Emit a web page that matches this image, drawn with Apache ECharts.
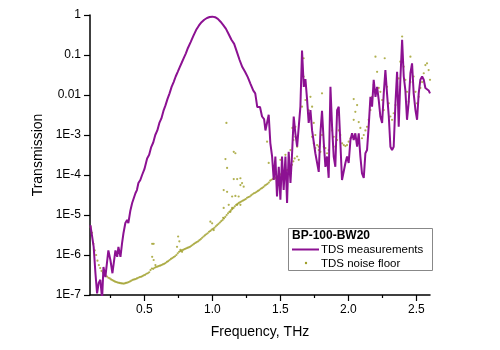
<!DOCTYPE html>
<html>
<head>
<meta charset="utf-8">
<title>BP-100-BW20</title>
<script src="https://cdn.jsdelivr.net/npm/echarts@6/dist/echarts.min.js"></script>
<style>
  html, body { margin: 0; padding: 0; background: #fff; }
  #chart { width: 500px; height: 350px; }
</style>
</head>
<body>
<div id="chart"></div>
<script>
// TDS measurement, [frequency THz, transmission]
const tdsPoints = [
  [0.103, 5.6e-6], [0.115, 3.0e-6], [0.127, 1.6e-6], [0.140, 3.5e-7], [0.152, 1.1e-7],
  [0.164, 2.0e-7], [0.176, 2.4e-7], [0.189, 8e-8], [0.199, 5e-7], [0.213, 2.8e-7],
  [0.235, 1.3e-6], [0.250, 7.5e-7], [0.265, 3.5e-7], [0.287, 1.3e-6], [0.300, 9e-7],
  [0.309, 1.6e-6], [0.324, 9e-7], [0.336, 2.0e-6], [0.346, 3.5e-6], [0.360, 6.3e-6],
  [0.373, 7.5e-6], [0.382, 6.3e-6], [0.397, 1.3e-5], [0.410, 2.0e-5], [0.419, 1.8e-5],
  [0.434, 3.5e-5], [0.445, 4.2e-5], [0.456, 6.3e-5], [0.470, 7.5e-5], [0.483, 1.0e-4],
  [0.500, 1.4e-4], [0.520, 2.6e-4], [0.535, 3.2e-4], [0.550, 5.0e-4], [0.565, 6.5e-4],
  [0.580, 1.0e-3], [0.595, 1.3e-3], [0.610, 2.0e-3], [0.625, 2.6e-3], [0.640, 4.0e-3],
  [0.655, 5.5e-3], [0.670, 8.0e-3], [0.685, 0.011], [0.700, 0.016], [0.715, 0.021],
  [0.730, 0.029], [0.745, 0.038], [0.760, 0.050], [0.775, 0.065], [0.790, 0.085],
  [0.805, 0.11], [0.820, 0.15], [0.840, 0.21], [0.860, 0.30], [0.880, 0.42],
  [0.900, 0.54], [0.920, 0.66], [0.940, 0.76], [0.960, 0.84], [0.980, 0.89],
  [1.000, 0.91], [1.020, 0.88], [1.040, 0.80], [1.060, 0.68], [1.080, 0.56],
  [1.100, 0.45], [1.120, 0.33], [1.140, 0.24], [1.160, 0.19], [1.180, 0.12],
  [1.200, 0.075], [1.220, 0.050], [1.240, 0.038], [1.260, 0.028], [1.280, 0.019],
  [1.300, 0.013], [1.315, 0.011], [1.330, 5.0e-3], [1.350, 5.0e-3], [1.365, 2.9e-3],
  [1.380, 2.5e-3], [1.390, 1.3e-3], [1.414, 3.2e-3], [1.426, 6.3e-4], [1.439, 2.9e-4],
  [1.451, 7.5e-5], [1.463, 2.9e-4], [1.475, 2.9e-5], [1.488, 1.6e-4], [1.500, 2.4e-5],
  [1.512, 2.9e-4], [1.524, 4.2e-5], [1.537, 2.9e-4], [1.549, 2.0e-5], [1.561, 3.8e-4],
  [1.574, 6.3e-5], [1.586, 3.5e-4], [1.598, 2.9e-3], [1.610, 1.1e-3], [1.623, 5.1e-4],
  [1.635, 5.0e-4], [1.647, 5.1e-3], [1.659, 0.13], [1.672, 0.016], [1.684, 0.025],
  [1.696, 7.9e-3], [1.708, 2.0e-3], [1.721, 4.2e-3], [1.733, 1.3e-3], [1.757, 3.5e-4],
  [1.782, 1.2e-4], [1.794, 1.1e-3], [1.806, 4.0e-3], [1.819, 6.3e-4], [1.831, 1.6e-4],
  [1.843, 2.9e-4], [1.855, 8.5e-5], [1.868, 0.016], [1.880, 1.6e-3], [1.892, 2.9e-4],
  [1.904, 1.6e-4], [1.917, 4.2e-3], [1.929, 5.1e-3], [1.941, 6.3e-4], [1.953, 7.5e-5],
  [1.978, 2.0e-4], [1.990, 2.9e-4], [2.002, 2.0e-4], [2.015, 7.5e-4], [2.027, 1.1e-3],
  [2.039, 7.5e-4], [2.051, 1.1e-3], [2.064, 5.1e-4], [2.076, 1.1e-3], [2.088, 2.9e-4],
  [2.100, 1.1e-4], [2.113, 8.5e-5], [2.125, 3.5e-4], [2.137, 4.2e-4], [2.149, 1.6e-3],
  [2.162, 9.0e-3], [2.174, 5.1e-3], [2.186, 0.024], [2.199, 9.0e-3], [2.211, 0.016],
  [2.223, 7.5e-3], [2.235, 2.9e-3], [2.248, 2.0e-3], [2.260, 0.011], [2.272, 0.042],
  [2.284, 0.011], [2.297, 2.9e-3], [2.309, 5.1e-4], [2.321, 4.2e-4], [2.333, 5.1e-4],
  [2.346, 6.3e-3], [2.358, 0.038], [2.370, 1.6e-3], [2.382, 0.024], [2.395, 0.24],
  [2.407, 0.029], [2.419, 0.013], [2.431, 2.4e-3], [2.443, 6.3e-3], [2.456, 0.035],
  [2.468, 0.062], [2.480, 0.011], [2.493, 4.2e-3], [2.505, 2.4e-3], [2.517, 0.011],
  [2.529, 0.024], [2.542, 0.029], [2.554, 0.024], [2.566, 0.015], [2.578, 0.016],
  [2.590, 0.013], [2.600, 0.011]
]

// TDS noise floor, main trend
const noiseTrend = [
  [0.105, 5.0e-6], [0.115, 3.6e-6], [0.125, 1.9e-6], [0.135, 1.3e-6], [0.145, 1.0e-6],
  [0.155, 7.2e-7], [0.165, 5.6e-7], [0.175, 4.7e-7], [0.185, 4.0e-7], [0.195, 3.6e-7],
  [0.205, 3.3e-7], [0.215, 3.1e-7], [0.225, 2.9e-7], [0.235, 2.7e-7], [0.245, 2.6e-7],
  [0.255, 2.45e-7], [0.265, 2.35e-7], [0.275, 2.25e-7], [0.285, 2.15e-7], [0.295, 2.1e-7],
  [0.305, 2.05e-7], [0.315, 2.0e-7], [0.325, 1.97e-7], [0.335, 1.95e-7], [0.345, 1.93e-7],
  [0.355, 1.95e-7], [0.365, 2.0e-7], [0.375, 2.05e-7], [0.385, 2.1e-7], [0.395, 2.2e-7],
  [0.405, 2.3e-7], [0.415, 2.4e-7], [0.425, 2.45e-7], [0.435, 2.5e-7], [0.445, 2.6e-7],
  [0.455, 2.7e-7], [0.465, 2.8e-7], [0.475, 2.85e-7], [0.485, 2.95e-7], [0.495, 3.1e-7],
  [0.505, 3.2e-7], [0.515, 3.4e-7], [0.525, 3.5e-7], [0.535, 3.7e-7], [0.545, 4.2e-7],
  [0.555, 4.6e-7], [0.565, 4.5e-7], [0.575, 4.8e-7], [0.585, 5.0e-7], [0.595, 5.1e-7],
  [0.605, 5.3e-7], [0.615, 5.4e-7], [0.625, 5.6e-7], [0.635, 5.8e-7], [0.645, 6.0e-7],
  [0.655, 6.3e-7], [0.665, 6.7e-7], [0.675, 7.0e-7], [0.685, 7.5e-7], [0.695, 8.0e-7],
  [0.705, 8.4e-7], [0.715, 8.8e-7], [0.725, 9.3e-7], [0.735, 1.0e-6], [0.745, 1.1e-6],
  [0.755, 1.2e-6], [0.765, 1.25e-6], [0.775, 1.3e-6], [0.785, 1.35e-6], [0.795, 1.4e-6],
  [0.805, 1.45e-6], [0.815, 1.5e-6], [0.825, 1.55e-6], [0.835, 1.6e-6], [0.845, 1.7e-6],
  [0.855, 1.8e-6], [0.865, 1.9e-6], [0.875, 2.0e-6], [0.885, 2.1e-6], [0.895, 2.2e-6],
  [0.905, 2.35e-6], [0.915, 2.5e-6], [0.925, 2.7e-6], [0.935, 2.9e-6], [0.945, 3.1e-6],
  [0.955, 3.3e-6], [0.965, 3.5e-6], [0.975, 3.8e-6], [0.985, 4.0e-6], [0.995, 4.3e-6],
  [1.005, 4.5e-6], [1.015, 4.8e-6], [1.025, 5.2e-6], [1.035, 5.6e-6], [1.045, 6.0e-6],
  [1.055, 6.5e-6], [1.065, 7.0e-6], [1.075, 7.5e-6], [1.085, 8.2e-6], [1.095, 9.0e-6],
  [1.105, 1.0e-5], [1.115, 1.1e-5], [1.125, 1.2e-5], [1.135, 1.3e-5], [1.145, 1.4e-5],
  [1.155, 1.5e-5], [1.165, 1.65e-5], [1.175, 1.8e-5], [1.185, 1.9e-5], [1.195, 2.0e-5],
  [1.205, 2.1e-5], [1.215, 2.2e-5], [1.225, 2.3e-5], [1.235, 2.4e-5], [1.245, 2.5e-5],
  [1.255, 2.7e-5], [1.265, 2.8e-5], [1.275, 2.9e-5], [1.285, 3.1e-5], [1.295, 3.3e-5],
  [1.305, 3.5e-5], [1.315, 3.6e-5], [1.325, 3.8e-5], [1.335, 4.0e-5], [1.345, 4.2e-5],
  [1.355, 4.5e-5], [1.365, 4.7e-5], [1.375, 5.0e-5], [1.385, 5.4e-5], [1.395, 5.7e-5],
  [1.405, 6.0e-5], [1.415, 6.5e-5], [1.425, 7.2e-5], [1.435, 7.6e-5], [1.445, 8.0e-5],
  [1.455, 8.2e-5], [1.465, 8.5e-5], [1.475, 9.0e-5], [1.485, 9.5e-5], [1.495, 1.0e-4],
  [1.505, 1.05e-4], [1.515, 1.1e-4], [1.525, 1.15e-4], [1.535, 1.2e-4], [1.545, 1.3e-4],
  [1.555, 1.35e-4], [1.565, 1.45e-4], [1.575, 1.6e-4], [1.585, 1.8e-4], [1.595, 2.2e-4],
  [1.605, 2.6e-4]
]

// TDS noise floor, scattered points
const noiseScatter = [
  [0.557, 1.9e-6], [0.568, 1.9e-6], [0.557, 9e-7], [0.568, 7.5e-7], [0.581, 5.6e-7],
  [0.748, 2.9e-6], [0.757, 2.2e-6], [0.740, 1.6e-6], [0.765, 1.35e-6], [0.777, 1.2e-6],
  [0.985, 6.8e-6], [0.998, 6.2e-6], [1.010, 4.2e-6],
  [1.103, 2.0e-3], [1.096, 2.5e-4], [1.108, 1.5e-4], [1.157, 3.8e-4], [1.169, 3.5e-4],
  [1.157, 7.9e-5], [1.182, 7.9e-5], [1.206, 8.3e-5], [1.218, 6.3e-5], [1.230, 5.1e-5],
  [1.083, 4.2e-5], [1.108, 3.8e-5], [1.145, 2.9e-5], [1.169, 3.0e-5], [1.193, 2.9e-5],
  [1.120, 1.8e-5], [1.145, 1.5e-5], [1.182, 1.8e-5], [1.206, 1.8e-5], [1.083, 1.5e-5],
  [1.132, 1.2e-5], [1.079, 8.5e-6], [1.206, 5.6e-5],
  [1.414, 2.0e-4], [1.402, 6.8e-4], [1.500, 2.4e-4], [1.537, 3.2e-4], [1.574, 4.2e-4],
  [1.596, 7.5e-4], [1.588, 1.5e-3],
  [1.610, 1.6e-3], [1.610, 9e-4], [1.623, 5.1e-4], [1.623, 2.9e-4], [1.635, 2.4e-4],
  [1.659, 5.1e-3], [1.671, 0.083], [1.671, 0.029], [1.684, 7.5e-3], [1.708, 4.2e-3],
  [1.721, 9e-3], [1.733, 5.1e-3], [1.733, 9e-4], [1.745, 2.0e-3], [1.745, 6.2e-4],
  [1.757, 1.0e-3], [1.757, 4.7e-4], [1.770, 5.6e-4], [1.782, 5.1e-4], [1.782, 4.2e-4],
  [1.794, 3.8e-4], [1.806, 0.011], [1.806, 1.0e-3], [1.819, 5.1e-4], [1.831, 4.7e-4],
  [1.843, 3.5e-4], [1.855, 4.2e-4], [1.868, 2.9e-3], [1.880, 1.3e-3], [1.892, 9e-4],
  [1.904, 5.1e-4], [1.917, 7.5e-4], [1.929, 3.2e-3], [1.929, 1.3e-3], [1.941, 1.0e-3],
  [1.954, 6.2e-4], [1.966, 5.6e-4], [1.978, 5.3e-4], [1.990, 5.6e-4], [2.002, 6.8e-4],
  [2.015, 8.3e-4], [2.027, 9e-4], [2.039, 7.9e-3], [2.039, 2.4e-3], [2.051, 3.8e-3],
  [2.064, 5.6e-3], [2.076, 2.1e-3], [2.088, 1.5e-3], [2.100, 8.3e-4], [2.113, 1.0e-3],
  [2.125, 1.3e-3], [2.137, 1.6e-3], [2.149, 2.4e-3], [2.162, 4.2e-3], [2.174, 9e-3],
  [2.186, 0.018], [2.199, 0.091], [2.211, 0.038], [2.223, 0.015], [2.235, 0.012],
  [2.248, 7.5e-3], [2.260, 4.2e-3], [2.267, 0.083], [2.284, 0.016], [2.297, 6.2e-3],
  [2.309, 2.9e-3], [2.321, 2.4e-3], [2.333, 3.5e-3], [2.346, 5.6e-3], [2.358, 0.016],
  [2.370, 0.026], [2.382, 0.068], [2.395, 0.29], [2.407, 0.051], [2.419, 0.024],
  [2.431, 0.012], [2.443, 6.8e-3], [2.456, 0.091], [2.456, 0.021], [2.468, 0.051],
  [2.480, 0.029], [2.493, 0.012], [2.505, 6.2e-3], [2.517, 9e-3], [2.529, 0.015],
  [2.542, 0.021], [2.554, 0.035], [2.566, 0.056], [2.578, 0.062], [2.590, 0.042],
  [2.600, 0.024]
]

const xTickValues = [0.5, 1.0, 1.5, 2.0, 2.5]
const xMinorTickValues = [0.25, 0.75, 1.25, 1.75, 2.25]

const purple = '#8c1192'
const olive = '#9e9e26'
const fontFamily = 'Liberation Sans, Arial, sans-serif'

const chartInstance = echarts.init(document.getElementById('chart'))

// y tick label: 1, 0.1, 0.01, then 1E-n
function yLabel(value) {
  const p = Math.round(Math.log10(value))
  if (p === 0) return '1'
  if (p === -1) return '0.1'
  if (p === -2) return '0.01'
  return '1E' + p
}

const initOption = {
  animation: false,
  backgroundColor: '#fff',
  textStyle: { fontFamily: fontFamily },
  grid: { left: 90, right: 70, top: 15, bottom: 55 },
  xAxis: [
    {
      type: 'value',
      min: 0.1,
      max: 2.6,
      name: 'Frequency, THz',
      nameLocation: 'middle',
      nameGap: 30,
      nameTextStyle: { fontSize: 14, color: '#000', fontFamily: fontFamily },
      axisLine: { lineStyle: { color: '#000', width: 1.5 } },
      axisTick: { customValues: xTickValues, length: 6, lineStyle: { color: '#000', width: 1.2 } },
      axisLabel: {
        customValues: xTickValues,
        margin: 9,
        fontSize: 12,
        color: '#000',
        formatter: (v) => v.toFixed(1),
      },
      splitLine: { show: false },
    },
    {
      // only minor ticks
      type: 'value',
      min: 0.1,
      max: 2.6,
      position: 'bottom',
      axisLine: { show: false },
      axisTick: { customValues: xMinorTickValues, length: 3, lineStyle: { color: '#000', width: 1.2 } },
      axisLabel: { show: false },
      splitLine: { show: false },
    },
  ],
  yAxis: {
    type: 'log',
    logBase: 10,
    min: 1e-7,
    max: 1,
    name: 'Transmission',
    nameLocation: 'middle',
    nameGap: 36,
    nameTextStyle: { fontSize: 14, color: '#000', fontFamily: fontFamily },
    axisLine: { show: true, lineStyle: { color: '#000', width: 1.5 } },
    axisTick: { show: true, length: 6, lineStyle: { color: '#000', width: 1.2 } },
    axisLabel: { margin: 9, fontSize: 12, color: '#000', formatter: yLabel },
    splitLine: { show: false },
  },
  series: [
    {
      name: 'TDS measurements',
      type: 'line',
      data: tdsPoints,
      symbol: 'none',
      clip: true,
      lineStyle: { color: purple, width: 2 },
    },
    {
      name: 'TDS noise floor',
      type: 'scatter',
      data: noiseTrend.concat(noiseScatter),
      symbolSize: 2.2,
      clip: true,
      itemStyle: { color: olive },
    },
  ],
  // legend box drawn by hand, it has a bold title
  graphic: [
    {
      type: 'rect',
      shape: { x: 288.5, y: 228.5, width: 144, height: 42 },
      style: { fill: '#fff', stroke: '#888', lineWidth: 1 },
    },
    {
      type: 'text',
      style: { x: 292, y: 236, text: 'BP-100-BW20', fontSize: 12, fontWeight: 'bold', fontFamily: fontFamily, fill: '#000', verticalAlign: 'middle' },
    },
    {
      type: 'line',
      shape: { x1: 292, y1: 249.5, x2: 319, y2: 249.5 },
      style: { stroke: purple, lineWidth: 2 },
    },
    {
      type: 'text',
      style: { x: 321, y: 250, text: 'TDS measurements', fontSize: 11.5, fontFamily: fontFamily, fill: '#000', verticalAlign: 'middle' },
    },
    {
      type: 'circle',
      shape: { cx: 306, cy: 263, r: 1.2 },
      style: { fill: olive },
    },
    {
      type: 'text',
      style: { x: 321, y: 263.5, text: 'TDS noise floor', fontSize: 11.5, fontFamily: fontFamily, fill: '#000', verticalAlign: 'middle' },
    },
  ],
}

chartInstance.setOption(initOption)
</script>
</body>
</html>
